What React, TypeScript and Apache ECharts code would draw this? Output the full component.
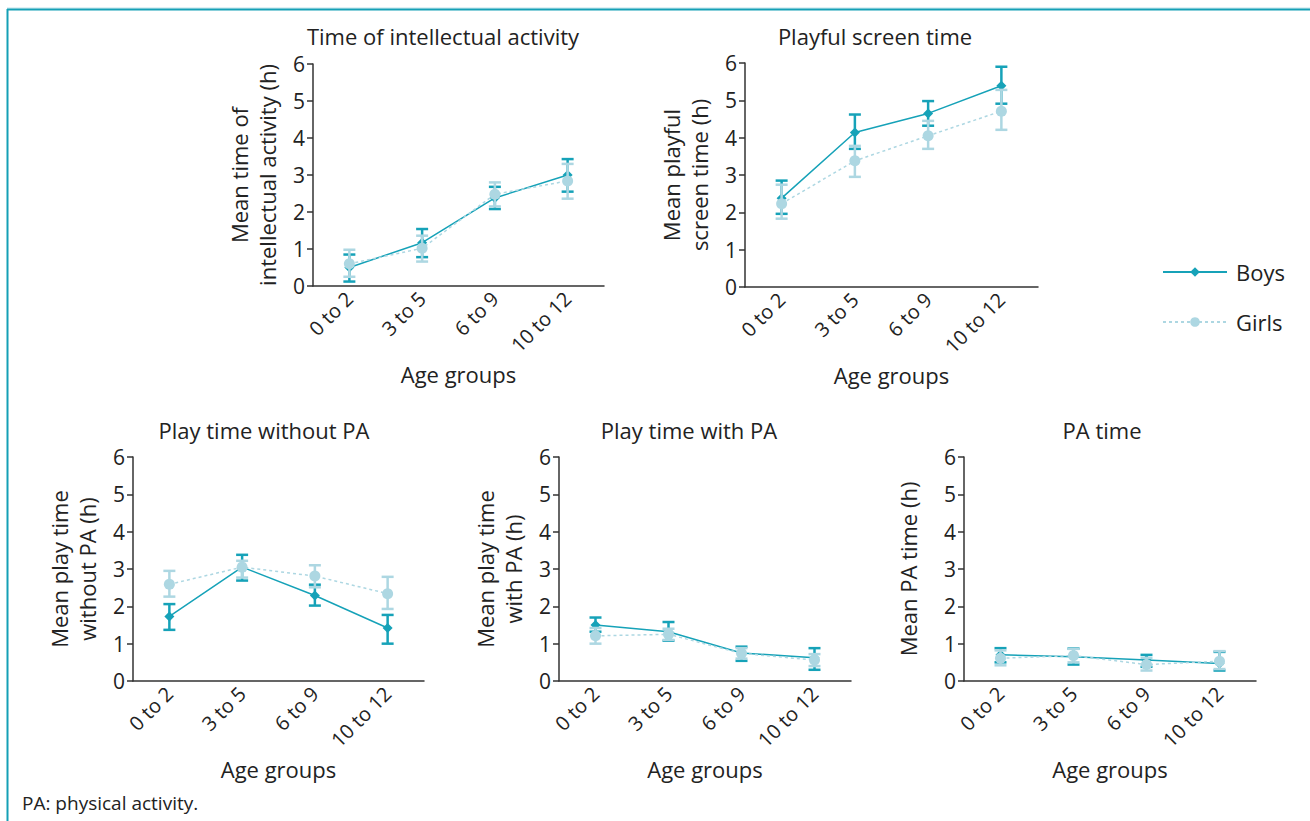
import React, { useEffect, useRef } from "react";
import * as echarts from "echarts";

const categories = ["0 to 2", "3 to 5", "6 to 9", "10 to 12"];
const yTicks = [0, 1, 2, 3, 4, 5, 6];

// Panel 1: Time of intellectual activity
const p1BoysMean = [0.5, 1.17, 2.38, 3.0];
const p1BoysLow = [0.12, 0.78, 2.08, 2.55];
const p1BoysHigh = [0.85, 1.54, 2.68, 3.43];
const p1GirlsMean = [0.6, 1.02, 2.48, 2.84];
const p1GirlsLow = [0.25, 0.66, 2.15, 2.36];
const p1GirlsHigh = [0.98, 1.36, 2.8, 3.3];

// Panel 2: Playful screen time
const p2BoysMean = [2.38, 4.14, 4.65, 5.39];
const p2BoysLow = [1.96, 3.7, 4.32, 4.91];
const p2BoysHigh = [2.85, 4.62, 4.98, 5.9];
const p2GirlsMean = [2.23, 3.38, 4.05, 4.71];
const p2GirlsLow = [1.83, 2.95, 3.7, 4.21];
const p2GirlsHigh = [2.74, 3.78, 4.45, 5.28];

// Panel 3: Play time without PA
const p3BoysMean = [1.73, 3.05, 2.29, 1.42];
const p3BoysLow = [1.37, 2.69, 2.02, 1.0];
const p3BoysHigh = [2.06, 3.38, 2.58, 1.77];
const p3GirlsMean = [2.59, 3.05, 2.81, 2.34];
const p3GirlsLow = [2.26, 2.77, 2.51, 1.93];
const p3GirlsHigh = [2.95, 3.22, 3.1, 2.79];

// Panel 4: Play time with PA
const p4BoysMean = [1.5, 1.32, 0.75, 0.62];
const p4BoysLow = [1.32, 1.08, 0.54, 0.3];
const p4BoysHigh = [1.7, 1.58, 0.92, 0.88];
const p4GirlsMean = [1.21, 1.25, 0.74, 0.56];
const p4GirlsLow = [1.0, 1.1, 0.6, 0.4];
const p4GirlsHigh = [1.42, 1.4, 0.88, 0.72];

// Panel 5: PA time
const p5BoysMean = [0.7, 0.65, 0.56, 0.47];
const p5BoysLow = [0.5, 0.44, 0.38, 0.28];
const p5BoysHigh = [0.88, 0.87, 0.7, 0.78];
const p5GirlsMean = [0.61, 0.68, 0.44, 0.53];
const p5GirlsLow = [0.42, 0.5, 0.28, 0.32];
const p5GirlsHigh = [0.82, 0.86, 0.62, 0.8];

const titles = [
  "Time of intellectual activity",
  "Playful screen time",
  "Play time without PA",
  "Play time with PA",
  "PA time",
];
const yNames = [
  "Mean time of\nintellectual activity (h)",
  "Mean playful\nscreen time (h)",
  "Mean play time\nwithout PA (h)",
  "Mean play time\nwith PA (h)",
  "Mean PA time (h)",
];
const xName = "Age groups";
const footnote = "PA: physical activity.";

const BOYS = "#16a2b8";
const GIRLS = "#add7e2";
const FONT = "'Open Sans', 'Noto Sans', sans-serif";
const TEXT = "#222";

const panels = [
  { bm: p1BoysMean, bl: p1BoysLow, bh: p1BoysHigh, gm: p1GirlsMean, gl: p1GirlsLow, gh: p1GirlsHigh },
  { bm: p2BoysMean, bl: p2BoysLow, bh: p2BoysHigh, gm: p2GirlsMean, gl: p2GirlsLow, gh: p2GirlsHigh },
  { bm: p3BoysMean, bl: p3BoysLow, bh: p3BoysHigh, gm: p3GirlsMean, gl: p3GirlsLow, gh: p3GirlsHigh },
  { bm: p4BoysMean, bl: p4BoysLow, bh: p4BoysHigh, gm: p4GirlsMean, gl: p4GirlsLow, gh: p4GirlsHigh },
  { bm: p5BoysMean, bl: p5BoysLow, bh: p5BoysHigh, gm: p5GirlsMean, gl: p5GirlsLow, gh: p5GirlsHigh },
];

const grids = [
  { left: 313, top: 64, width: 291, height: 222 },
  { left: 745, top: 63, width: 293, height: 224 },
  { left: 133, top: 457, width: 291, height: 224 },
  { left: 559, top: 457, width: 292, height: 224 },
  { left: 964, top: 457, width: 292, height: 224 },
];

function errorSeries(name: string, gi: number, low: number[], high: number[], color: string, z: number) {
  return {
    type: "custom",
    name,
    xAxisIndex: gi,
    yAxisIndex: gi,
    z,
    silent: true,
    data: categories.map((_, i) => [i, low[i], high[i]]),
    renderItem: (params: any, api: any) => {
      const x = api.value(0);
      const lo = api.coord([x, api.value(1)]);
      const hi = api.coord([x, api.value(2)]);
      const cap = 6;
      const style = { stroke: color, lineWidth: 2.5, fill: "none" };
      return {
        type: "group",
        children: [
          { type: "line", shape: { x1: lo[0], y1: lo[1], x2: hi[0], y2: hi[1] }, style },
          { type: "line", shape: { x1: lo[0] - cap, y1: lo[1], x2: lo[0] + cap, y2: lo[1] }, style },
          { type: "line", shape: { x1: hi[0] - cap, y1: hi[1], x2: hi[0] + cap, y2: hi[1] }, style },
        ],
      };
    },
  };
}

export default function App() {
  const ref = useRef<HTMLDivElement>(null);
  useEffect(() => {
    document.body.style.margin = "0";
    const chart = echarts.init(ref.current!, null, { renderer: "svg" });
    const series: any[] = [];
    panels.forEach((p, gi) => {
      series.push(errorSeries("boysErr" + gi, gi, p.bl, p.bh, BOYS, 2));
      series.push({
        type: "line",
        name: "Boys",
        xAxisIndex: gi,
        yAxisIndex: gi,
        data: p.bm,
        z: 3,
        symbol: "diamond",
        symbolSize: 10,
        lineStyle: { color: BOYS, width: 1.5 },
        itemStyle: { color: BOYS },
      });
      series.push(errorSeries("girlsErr" + gi, gi, p.gl, p.gh, GIRLS, 4));
      series.push({
        type: "line",
        name: "Girls",
        xAxisIndex: gi,
        yAxisIndex: gi,
        data: p.gm,
        z: 5,
        symbol: "circle",
        symbolSize: 11,
        lineStyle: { color: GIRLS, width: 1.5, type: [3, 3] },
        itemStyle: { color: GIRLS },
      });
    });

    const titleCenters = [
      [443, 25],
      [875, 25],
      [264, 419],
      [689, 419],
      [1102, 419],
    ];

    const option: any = {
      animation: false,
      backgroundColor: "#fff",
      textStyle: { fontFamily: FONT },
      title: titles.map((t, i) => ({
        text: t,
        left: titleCenters[i][0],
        top: titleCenters[i][1],
        textAlign: "center",
        padding: 0,
        textStyle: { fontSize: 22, fontWeight: "normal", color: TEXT, fontFamily: FONT },
      })),
      legend: {
        orient: "vertical",
        left: 1162,
        top: 261,
        itemWidth: 64,
        itemHeight: 12,
        itemGap: 28,
        padding: 0,
        data: ["Boys", "Girls"],
        textStyle: { fontSize: 22, color: TEXT, fontFamily: FONT, padding: [0, 0, 0, 4] },
      },
      grid: grids.map((g) => ({ ...g })),
      xAxis: grids.map((_, gi) => ({
        type: "category",
        gridIndex: gi,
        data: categories,
        boundaryGap: true,
        name: xName,
        nameLocation: "middle",
        nameGap: 77,
        nameTextStyle: { fontSize: 22, color: TEXT, fontFamily: FONT },
        axisLine: { lineStyle: { color: "#333", width: 1.5 } },
        axisTick: { length: 7, lineStyle: { color: "#333", width: 1.5 } },
        axisLabel: { rotate: 45, fontSize: 20, color: TEXT, margin: 9, fontFamily: FONT },
        splitLine: { show: false },
      })),
      yAxis: grids.map((_, gi) => ({
        type: "value",
        gridIndex: gi,
        min: yTicks[0],
        max: yTicks[yTicks.length - 1],
        interval: 1,
        name: yNames[gi],
        nameLocation: "middle",
        nameRotate: 90,
        nameGap: gi === 4 ? 42 : 32,
        nameTextStyle: { fontSize: 22, color: TEXT, fontFamily: FONT, lineHeight: 28 },
        axisLine: { show: true, lineStyle: { color: "#333", width: 1.5 } },
        axisTick: { show: true, length: 6, lineStyle: { color: "#333", width: 1.5 } },
        axisLabel: { fontSize: 21, color: TEXT, margin: 8, fontFamily: FONT },
        splitLine: { show: false },
      })),
      graphic: [
        { type: "line", shape: { x1: 7, y1: 8, x2: 1310, y2: 8 }, style: { stroke: "#bfe3ea", lineWidth: 1 } },
        { type: "line", shape: { x1: 7, y1: 9.5, x2: 1310, y2: 9.5 }, style: { stroke: "#14a0b6", lineWidth: 2 } },
        { type: "line", shape: { x1: 7.5, y1: 9, x2: 7.5, y2: 821 }, style: { stroke: "#14a0b6", lineWidth: 2 } },
        {
          type: "text",
          left: 22,
          top: 793,
          style: { text: footnote, fontSize: 19, fill: TEXT, fontFamily: FONT },
        },
      ],
      series,
    };
    chart.setOption(option);
    return () => chart.dispose();
  }, []);
  return (
    <div
      ref={ref}
      style={{ position: "absolute", left: 0, top: 0, width: 1310, height: 821 }}
    />
  );
}
